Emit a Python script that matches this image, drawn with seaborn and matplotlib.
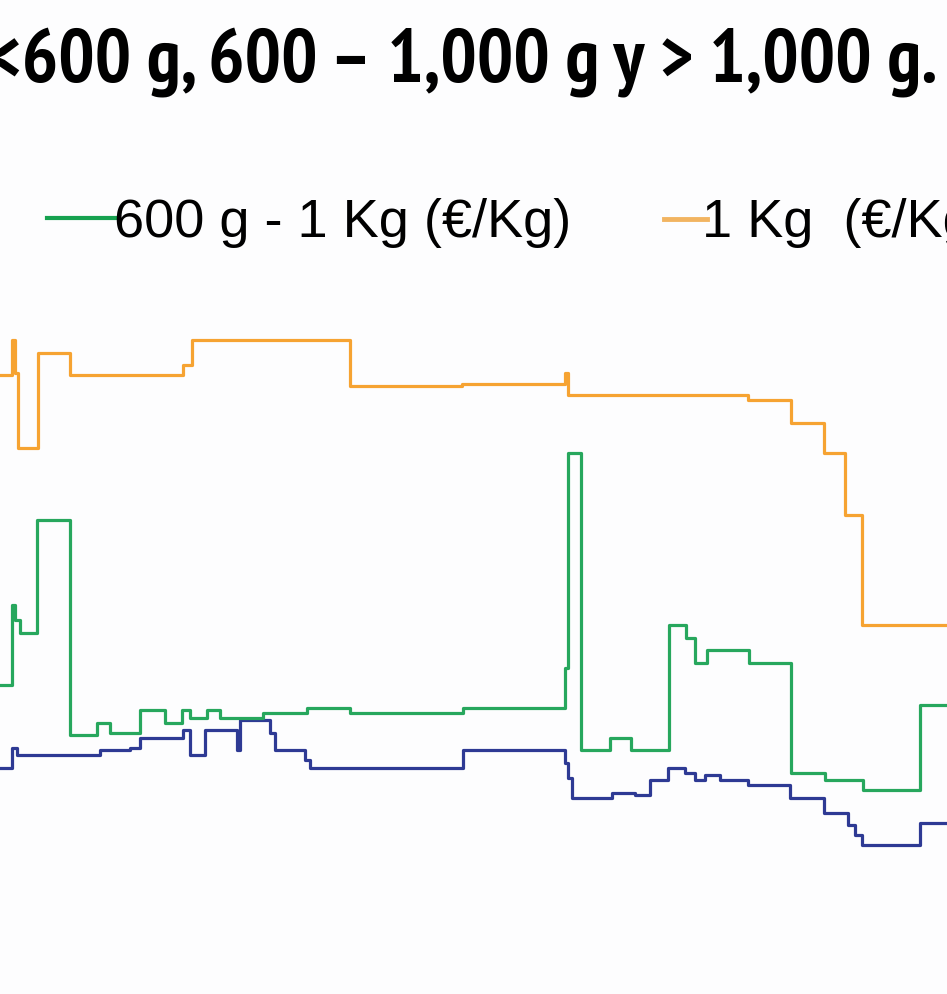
import pandas as pd
import seaborn as sns
import matplotlib.pyplot as plt

# Weekly prices (€/Kg) for the three weight classes, step changes only
weeks_light = [0.0, 1.2, 1.7, 10.0, 13.0, 14.0, 18.3, 19.0, 20.5, 23.7, 24.0, 27.0, 27.5,
               30.5, 31.0, 46.3, 56.5, 56.8, 57.2, 61.2, 63.5, 65.0, 66.8, 68.5, 69.5,
               70.5, 72.0, 74.8, 79.0, 82.4, 84.8, 85.5, 86.2, 92.0, 94.7]
price_light = [2.13, 2.21, 2.18, 2.20, 2.21, 2.25, 2.28, 2.18, 2.28, 2.20, 2.32, 2.27, 2.20,
               2.16, 2.13, 2.20, 2.15, 2.09, 2.01, 2.03, 2.02, 2.08, 2.13, 2.11, 2.08,
               2.10, 2.08, 2.06, 2.01, 1.95, 1.90, 1.86, 1.82, 1.91, 1.91]

weeks_mid = [0.0, 1.2, 1.5, 2.0, 3.7, 7.0, 9.7, 11.0, 14.0, 16.5, 18.2, 19.0, 20.7, 22.0,
             26.3, 30.7, 35.0, 46.3, 56.5, 56.8, 58.1, 61.0, 63.1, 66.9, 68.6, 69.5,
             70.7, 74.9, 79.1, 82.5, 86.3, 92.0, 94.7]
price_mid = [2.46, 2.78, 2.72, 2.67, 3.12, 2.26, 2.31, 2.27, 2.36, 2.31, 2.36, 2.33, 2.36, 2.33,
             2.35, 2.37, 2.35, 2.37, 2.53, 3.39, 2.20, 2.25, 2.20, 2.70, 2.65, 2.55,
             2.60, 2.55, 2.11, 2.08, 2.04, 2.38, 2.38]

weeks_heavy = [0.0, 1.2, 1.5, 1.8, 3.8, 7.0, 18.3, 19.2, 35.0, 46.2, 56.5, 56.8, 74.8,
               79.1, 82.4, 84.5, 86.2, 94.7]
price_heavy = [3.70, 3.84, 3.71, 3.41, 3.79, 3.70, 3.74, 3.84, 3.655, 3.665, 3.71, 3.62, 3.60,
               3.51, 3.39, 3.14, 2.70, 2.70]

labels = ['<600 g (€/Kg)', '600 g - 1 Kg (€/Kg)', '1 Kg  (€/Kg)']
colors = ['#2E3A94', '#27A75D', '#F6A332']

df = pd.concat([
    pd.DataFrame({'semana': weeks_light, 'precio': price_light, 'serie': labels[0]}),
    pd.DataFrame({'semana': weeks_mid, 'precio': price_mid, 'serie': labels[1]}),
    pd.DataFrame({'semana': weeks_heavy, 'precio': price_heavy, 'serie': labels[2]}),
])

W, H = 947, 994
fig = plt.figure(figsize=(W / 100, H / 100), dpi=100, facecolor='#fdfdfe')
ax = fig.add_axes([0, 0, 1, 1])
ax.set_facecolor('#fdfdfe')

sns.lineplot(data=df, x='semana', y='precio', hue='serie', palette=colors,
             estimator=None, drawstyle='steps-post', linewidth=2.3, legend=False, ax=ax)

ax.set_xlim(0, 94.7)
ax.set_ylim(1.224, 5.2)
ax.axis('off')

# title (cropped on both sides like the slide it comes from)
title_font = dict(family=['PT Sans Narrow', 'Liberation Sans'], fontweight='bold', fontsize=55)
r = fig.canvas.get_renderer()
probe = fig.text(0, 0, '<', **title_font)
lt_w = probe.get_window_extent(r).width
probe.remove()
fig.text((22 - lt_w) / W, 1 - 82 / H, '<600 g, 600 – 1,000 g y > 1,000 g. (€/Kg)',
         ha='left', va='baseline', **title_font)

# legend entries (first one falls outside the crop)
leg_font = dict(family=['Liberation Sans', 'DejaVu Sans'], fontsize=39)
ax.add_line(plt.Line2D([47 / W, 115 / W], [1 - 218 / H] * 2, transform=fig.transFigure,
                       color='#16A14F', lw=3))
fig.text(114 / W, 1 - 237 / H, labels[1], ha='left', va='baseline', **leg_font)
ax.add_line(plt.Line2D([664 / W, 707 / W], [1 - 219 / H] * 2, transform=fig.transFigure,
                       color='#F2B461', lw=3.5))
fig.text(702 / W, 1 - 237 / H, labels[2], ha='left', va='baseline', **leg_font)

fig.savefig('out.png', dpi=100, facecolor=fig.get_facecolor())
